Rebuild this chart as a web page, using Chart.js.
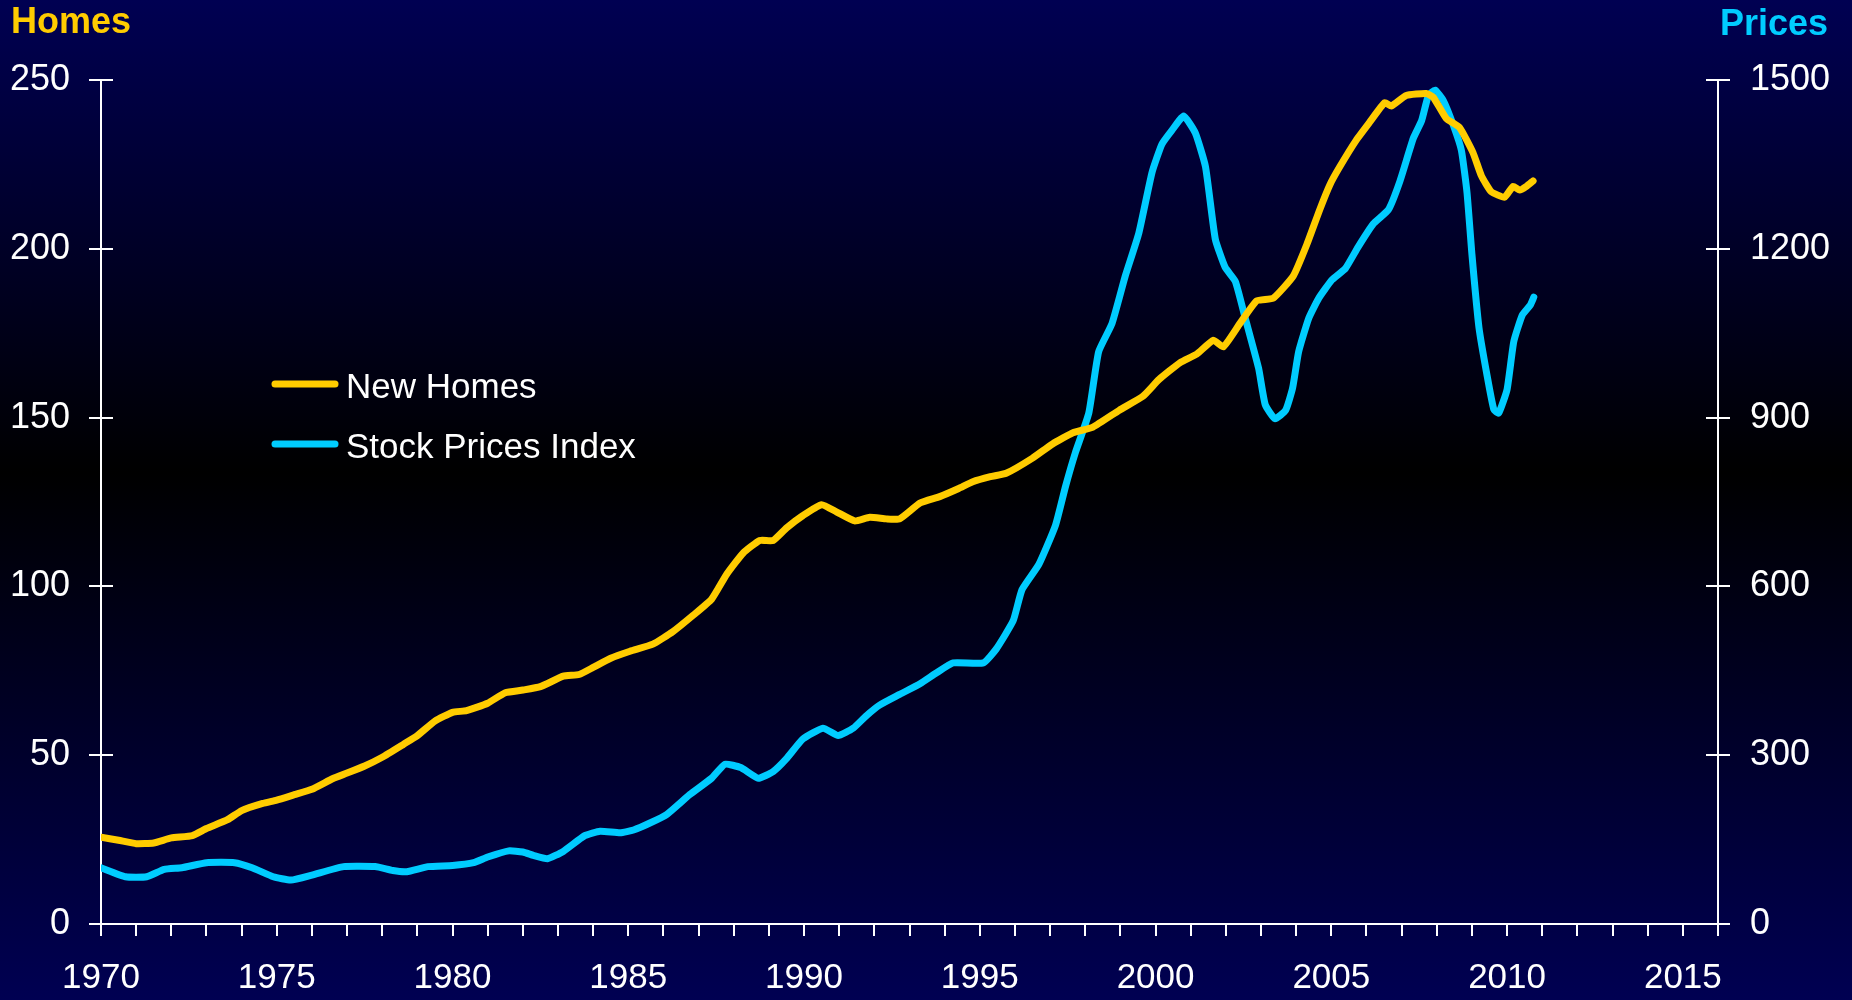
<!DOCTYPE html>
<html>
<head>
<meta charset="utf-8">
<script src="https://cdn.jsdelivr.net/npm/chart.js@4/dist/chart.umd.min.js"></script>
<style>
  html, body { margin: 0; padding: 0; background: #000050; }
  #wrap { width: 1852px; height: 1000px; position: relative; }
  canvas { display: block; }
</style>
</head>
<body>
<div id="wrap"><canvas id="c" width="1852" height="1000"></canvas></div>
<script>
// ---- data ----
const seriesNames = ["New Homes", "Stock Prices Index"];
const axisTitles = ["Homes", "Prices"];
const xLabelYears = [1970, 1975, 1980, 1985, 1990, 1995, 2000, 2005, 2010, 2015];
const leftTicks = [0, 50, 100, 150, 200, 250];
const rightTicks = [0, 300, 600, 900, 1200, 1500];

const homeYears = [1970.0,1970.5,1971.0,1971.5,1972.0,1972.6,1973.0,1973.6,1974.0,1974.6,1975.0,1975.5,1976.0,1976.6,1977.0,1977.5,1978.0,1978.6,1979.0,1979.5,1980.0,1980.4,1981.0,1981.5,1982.0,1982.5,1983.15,1983.6,1984.0,1984.5,1985.05,1985.7,1986.27,1986.84,1987.37,1987.8,1988.27,1988.74,1989.12,1989.5,1989.97,1990.5,1990.92,1991.44,1991.87,1992.34,1992.72,1993.3,1993.86,1994.4,1994.8,1995.3,1995.75,1996.5,1997.07,1997.65,1998.22,1998.97,1999.64,2000.1,2000.7,2001.17,2001.64,2001.93,2002.4,2002.88,2003.35,2003.92,2004.3,2004.67,2004.96,2005.24,2005.71,2006.09,2006.52,2006.71,2007.13,2007.7,2007.9,2008.27,2008.65,2009.03,2009.27,2009.55,2009.93,2010.17,2010.36,2010.55,2010.74];
const homeValues = [25.7,24.8,23.8,24.0,25.5,26.2,28.3,30.9,33.6,35.7,36.7,38.3,39.9,43.1,44.7,46.8,49.4,53.2,55.8,60.1,62.7,63.2,65.4,68.5,69.3,70.3,73.4,73.9,76.0,78.7,80.8,82.9,86.6,91.4,96.2,103.6,109.9,113.6,113.6,117.3,121.0,124.2,122.1,119.4,120.5,120.0,120.0,124.7,126.6,129.0,131.0,132.5,133.5,138.0,142.2,145.5,147.2,152.2,156.3,161.3,166.3,168.8,172.9,171.0,177.9,184.6,185.4,192.0,201.2,211.6,219.0,224.3,232.2,237.5,243.3,242.3,245.4,246.0,244.9,238.6,235.9,228.5,221.6,216.9,215.3,218.5,217.4,218.5,220.1];

const stockYears = [1970.0,1970.7,1971.3,1971.8,1972.3,1973.0,1973.8,1974.3,1974.9,1975.4,1976.0,1976.9,1977.8,1978.3,1978.7,1979.3,1980.0,1980.6,1981.0,1981.6,1982.0,1982.3,1982.7,1983.15,1983.76,1984.2,1984.77,1985.15,1985.6,1986.1,1986.75,1987.37,1987.75,1988.2,1988.7,1989.12,1989.5,1989.97,1990.54,1990.97,1991.4,1991.77,1992.15,1992.72,1993.3,1993.76,1994.24,1995.1,1995.47,1995.95,1996.2,1996.68,1997.15,1997.44,1997.72,1998.1,1998.38,1998.76,1999.14,1999.52,1999.9,2000.18,2000.47,2000.8,2001.13,2001.42,2001.7,2001.98,2002.27,2002.55,2002.93,2003.12,2003.4,2003.7,2003.9,2004.07,2004.36,2004.64,2005.02,2005.4,2005.76,2006.19,2006.62,2006.95,2007.33,2007.57,2007.76,2007.95,2008.19,2008.48,2008.7,2008.86,2009.0,2009.2,2009.43,2009.62,2009.76,2010.0,2010.19,2010.43,2010.66,2010.76];
const stockValues = [100,84,84,97,100,109,109,100,84,78,87,102,102,95,93,102,104,109,119,130,128,122,116,129,157,165,162,167,179,195,230,259,284,278,259,271,294,329,348,335,348,370,389,408,427,446,464,464,489,539,594,639,708,778,838,908,1017,1067,1152,1227,1336,1386,1411,1436,1406,1346,1217,1167,1142,1077,988,923,898,913,953,1017,1077,1112,1145,1165,1203,1244,1269,1320,1396,1428,1472,1482,1463,1418,1375,1300,1190,1060,975,915,908,950,1035,1082,1100,1114];

// ---- styles ----
const YELLOW = "#FFCC00";
const CYAN = "#00CCFF";
const NAVY = "rgb(0,0,82)";
const FONT = "'Liberation Sans', Arial, sans-serif";

const bgPlugin = {
  id: "bg",
  beforeDraw(chart) {
    const ctx = chart.ctx, h = chart.height, w = chart.width;
    const g = ctx.createLinearGradient(0, 0, 0, h);
    g.addColorStop(0, NAVY);
    g.addColorStop(0.472, "rgb(0,0,0)");
    g.addColorStop(1, NAVY);
    ctx.save();
    ctx.fillStyle = g;
    ctx.fillRect(0, 0, w, h);
    ctx.restore();
  }
};

const decoPlugin = {
  id: "deco",
  afterDraw(chart) {
    const ctx = chart.ctx;
    const ca = chart.chartArea;
    ctx.save();
    // inner halves of the y-axis tick marks
    ctx.strokeStyle = "#ffffff";
    ctx.lineWidth = 2;
    const yl = chart.scales.y, yr = chart.scales.y1;
    yl.ticks.forEach(t => {
      const y = Math.round(yl.getPixelForValue(t.value));
      ctx.beginPath(); ctx.moveTo(ca.left, y); ctx.lineTo(ca.left + 12, y); ctx.stroke();
    });
    yr.ticks.forEach(t => {
      const y = Math.round(yr.getPixelForValue(t.value));
      ctx.beginPath(); ctx.moveTo(ca.right, y); ctx.lineTo(ca.right - 12, y); ctx.stroke();
    });
    // axis titles
    ctx.font = "bold 36px " + FONT;
    ctx.textBaseline = "alphabetic";
    ctx.fillStyle = YELLOW;
    ctx.textAlign = "left";
    ctx.fillText(axisTitles[0], 11, 33);
    ctx.fillStyle = CYAN;
    ctx.textAlign = "right";
    ctx.fillText(axisTitles[1], 1828, 35);
    // legend
    ctx.font = "35px " + FONT;
    ctx.textAlign = "left";
    ctx.textBaseline = "middle";
    chart.data.datasets.forEach((ds, i) => {
      const y = 384 + i * 60;
      ctx.strokeStyle = ds.borderColor;
      ctx.lineWidth = 7;
      ctx.lineCap = "round";
      ctx.beginPath(); ctx.moveTo(275, y); ctx.lineTo(335, y); ctx.stroke();
      ctx.fillStyle = "#ffffff";
      ctx.fillText(ds.label, 346, y + 4);
    });
    ctx.restore();
  }
};

const tickFont = { family: FONT, size: 36 };

new Chart(document.getElementById("c"), {
  type: "line",
  data: {
    datasets: [
      {
        label: seriesNames[0],
        data: homeYears.map((x, i) => ({ x: x, y: homeValues[i] })),
        borderColor: YELLOW,
        borderWidth: 7,
        pointRadius: 0,
        tension: 0.15,
        yAxisID: "y",
        borderJoinStyle: "round",
        borderCapStyle: "round"
      },
      {
        label: seriesNames[1],
        data: stockYears.map((x, i) => ({ x: x, y: stockValues[i] })),
        borderColor: CYAN,
        borderWidth: 7,
        pointRadius: 0,
        tension: 0.15,
        yAxisID: "y1",
        borderJoinStyle: "round",
        borderCapStyle: "round"
      }
    ]
  },
  options: {
    responsive: false,
    animation: false,
    devicePixelRatio: 1,
    layout: { padding: { top: 80, left: 0, right: 0, bottom: 0 } },
    plugins: {
      legend: { display: false },
      tooltip: { enabled: false },
      title: { display: false }
    },
    scales: {
      x: {
        type: "linear",
        min: 1970,
        max: 2016,
        afterFit: s => { s.height = 76; },
        border: { display: true, color: "#ffffff", width: 2 },
        grid: { drawOnChartArea: false, drawTicks: true, tickLength: 12, color: "#ffffff", lineWidth: 2 },
        ticks: {
          stepSize: 1,
          autoSkip: false,
          maxRotation: 0,
          padding: 21,
          color: "#ffffff",
          font: { family: FONT, size: 35 },
          callback: v => xLabelYears.includes(v) ? String(v) : ""
        }
      },
      y: {
        type: "linear",
        position: "left",
        min: 0,
        max: 250,
        afterFit: s => { s.width = 101; },
        afterBuildTicks: s => { s.ticks = leftTicks.map(v => ({ value: v })); },
        border: { display: true, color: "#ffffff", width: 2 },
        grid: { drawOnChartArea: false, drawTicks: true, tickLength: 12, color: "#ffffff", lineWidth: 2 },
        ticks: { padding: 19, color: "#ffffff", font: tickFont, callback: v => String(v) }
      },
      y1: {
        type: "linear",
        position: "right",
        min: 0,
        max: 1500,
        grid: { drawOnChartArea: false, drawTicks: true, tickLength: 12, color: "#ffffff", lineWidth: 2 },
        afterFit: s => { s.width = 134; },
        afterBuildTicks: s => { s.ticks = rightTicks.map(v => ({ value: v })); },
        border: { display: true, color: "#ffffff", width: 2 },
        ticks: { padding: 20, color: "#ffffff", font: tickFont, callback: v => String(v) }
      }
    }
  },
  plugins: [bgPlugin, decoPlugin]
});
</script>
</body>
</html>
